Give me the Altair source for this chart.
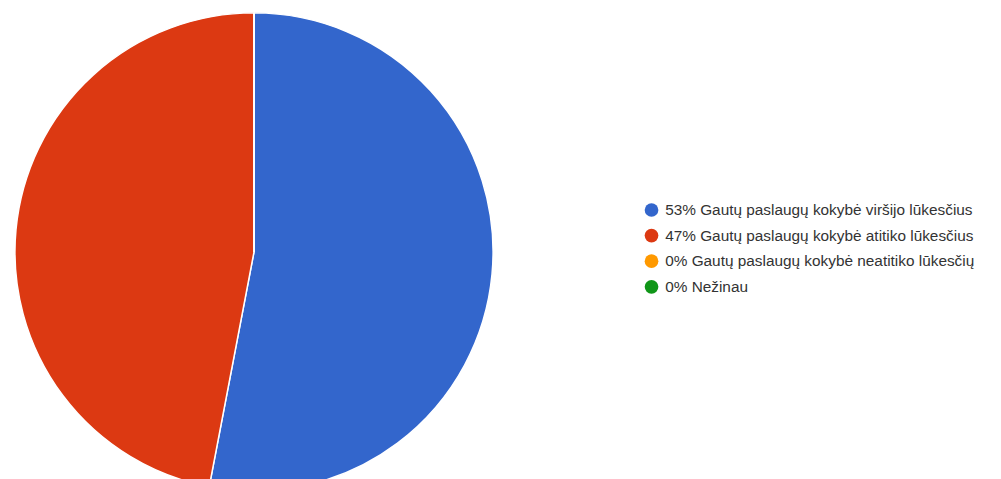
import altair as alt
import pandas as pd

categories = [
    "53% Gautų paslaugų kokybė viršijo lūkesčius",
    "47% Gautų paslaugų kokybė atitiko lūkesčius",
    "0% Gautų paslaugų kokybė neatitiko lūkesčių",
    "0% Nežinau",
]
values = [53, 47, 0, 0]
colors = ["#3366cc", "#dc3912", "#ff9900", "#109618"]

df = pd.DataFrame({"cat": categories, "val": values, "order": list(range(len(values)))})

chart = (
    alt.Chart(df)
    .mark_arc(radius=241, stroke="white", strokeWidth=1.5)
    .encode(
        theta=alt.Theta("val:Q", stack=True),
        order=alt.Order("order:Q"),
        color=alt.Color(
            "cat:N",
            scale=alt.Scale(domain=categories, range=colors),
            sort=categories,
            legend=alt.Legend(
                title=None,
                orient="none",
                legendX=641,
                legendY=194,
                symbolType="circle",
                symbolSize=190,
                symbolStrokeWidth=0,
                labelFontSize=15.5,
                labelFont="Liberation Sans",
                labelColor="#333333",
                rowPadding=8.8,
                labelOffset=6,
                labelLimit=0,
            ),
        ),
        x=alt.value(248),
        y=alt.value(244),
    )
    .properties(
        width=993,
        height=471,
        autosize=alt.AutoSizeParams(type="none"),
        padding=0,
    )
    .configure_view(stroke=None)
)

chart.save("out.html", embed_options={"renderer": "svg", "actions": False})
